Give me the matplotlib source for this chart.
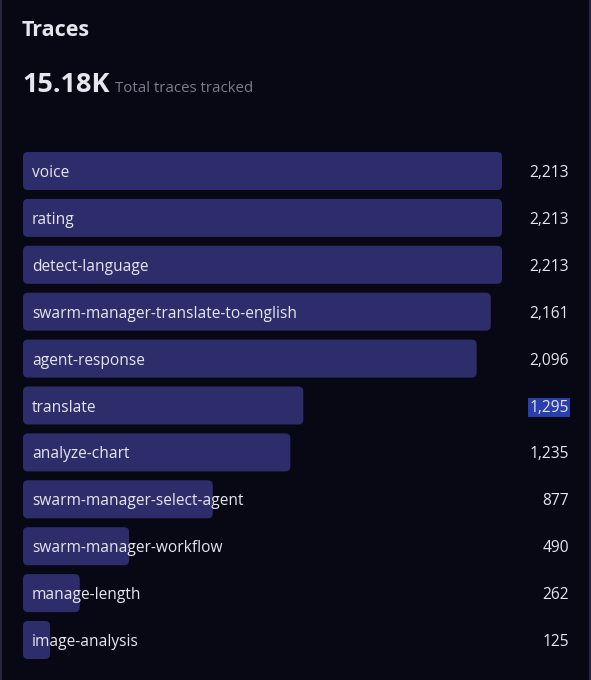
import matplotlib.pyplot as plt
import matplotlib.transforms as mtransforms
from matplotlib.patches import FancyBboxPatch

# Trace counts per span name
names = ['voice', 'rating', 'detect-language', 'swarm-manager-translate-to-english',
         'agent-response', 'translate', 'analyze-chart', 'swarm-manager-select-agent',
         'swarm-manager-workflow', 'manage-length', 'image-analysis']
counts = [2213, 2213, 2213, 2161, 2096, 1295, 1235, 877, 490, 262, 125]
total_label = '15.18K'
highlighted = 'translate'

bg = '#080815'
bar_color = '#2d2d6c'
text_color = '#e6e6ee'

plt.rcParams['font.family'] = ['Open Sans', 'DejaVu Sans']

W, H = 591, 680
fig = plt.figure(figsize=(W / 100, H / 100), dpi=100, facecolor=bg)

# thin card border on left / right
fig.add_artist(plt.Line2D([1.5 / W, 1.5 / W], [0, 1], color='#26263c', lw=1.5))
fig.add_artist(plt.Line2D([1 - 1.5 / W, 1 - 1.5 / W], [0, 1], color='#26263c', lw=1.5))

fig.text(22 / W, 1 - 36 / H, 'Traces', fontsize=15.5, fontweight='bold',
         color=text_color, va='baseline', ha='left')
fig.text(22 / W, 1 - 92 / H, total_label, fontsize=19.5, fontweight='bold',
         color=text_color, va='baseline', ha='left')
fig.text(115 / W, 1 - 92 / H, 'Total traces tracked', fontsize=10.8,
         color='#7c7c8c', va='baseline', ha='left')

# axes: 0..max maps to px 23..502, rows spaced ~47px
step = 46.9
top_px = 171 - step / 2
n = len(names)
ax = fig.add_axes([23 / W, 1 - (top_px + n * step) / H, 479 / W, n * step / H])
ax.set_facecolor(bg)
ax.set_xlim(0, max(counts))
ax.set_ylim(n - 0.5, -0.5)
ax.axis('off')

bars = ax.barh(range(n), counts, height=38 / step, color=bar_color)

# swap plain bars for rounded ones
x_per_px = max(counts) / 479
y_per_px = 1 / step
for b in bars:
    x0, y0 = b.get_x(), b.get_y()
    w, h = b.get_width(), b.get_height()
    rounded = FancyBboxPatch((x0, y0), w, h,
                             boxstyle=f'round,pad=0,rounding_size={5 * x_per_px}',
                             mutation_aspect=y_per_px / x_per_px,
                             facecolor=bar_color, edgecolor='none')
    ax.add_patch(rounded)
    b.set_visible(False)

value_trans = mtransforms.blended_transform_factory(fig.transFigure, ax.transData)
for i, (name, c) in enumerate(zip(names, counts)):
    ax.text(9 * x_per_px, i + 6 * y_per_px, name, fontsize=11.2, color=text_color,
            va='baseline', ha='left')
    kw = {}
    if name == highlighted:
        kw['bbox'] = dict(boxstyle='square,pad=0.08', facecolor='#2a3fae', edgecolor='none')
    ax.text(569 / W, i + 6 * y_per_px, f'{c:,}', fontsize=11.2, color=text_color,
            va='baseline', ha='right', transform=value_trans, **kw)

fig.savefig('out.png', dpi=100, facecolor=bg)
